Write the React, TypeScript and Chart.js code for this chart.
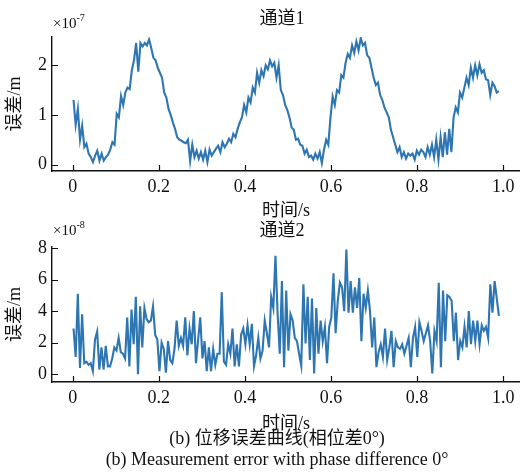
import React, { useEffect, useRef } from "react";
import { Chart, registerables } from "chart.js";

Chart.register(...registerables);

const SERIF = '"Liberation Serif", "Times New Roman", "Noto Sans CJK SC", serif';
const LINE_COLOR = "#2e76b2";
const INK = "#111111";

// Time axis (s)
const X_TICKS = [0, 0.2, 0.4, 0.6, 0.8, 1.0];
const T_START = 0.002;
const T_END = 0.99;

// Channel 1 displacement error, in units of 1e-7 m
const CH1_Y_TICKS = [0, 1, 2];
const CH1_ERROR = [
  1.3, 0.8, 1.12, 0.5, 0.78, 0.35, 0.42, 0.22, 0.15, 0.05,
  0.18, 0.28, 0.08, 0.22, 0.08, 0.15, 0.2, 0.3, 0.45, 0.4,
  1.02, 0.95, 1.38, 1.2, 1.45, 1.55, 1.52, 1.9, 2.1, 2.45,
  1.87, 2.45, 2.38, 2.45, 2.4, 2.52, 2.35, 2.15, 2.1, 1.95,
  1.85, 1.75, 1.45, 1.35, 1.12, 1.0, 0.85, 0.72, 0.55, 0.5,
  0.48, 0.45, 0.43, 0.5, 0.07, 0.4, 0.15, 0.28, 0.12, 0.25,
  0.1, 0.28, 0.05, 0.3, 0.18, 0.25, 0.32, 0.38, 0.25, 0.45,
  0.35, 0.42, 0.52, 0.45, 0.62, 0.55, 0.72, 0.85, 0.95, 1.2,
  1.05, 1.35, 1.25, 1.55, 1.45, 1.85, 1.65, 1.9, 1.78, 2.0,
  1.92, 2.1, 1.98, 2.05, 1.75, 2.0, 1.5, 1.4, 1.2, 1.1,
  0.95, 0.75, 0.7, 0.5, 0.52, 0.4, 0.38, 0.22, 0.3, 0.15,
  0.18, 0.1, 0.22, 0.12, 0.25, 0.03, 0.3, 0.5, 0.4, 0.95,
  1.37, 1.2, 1.5, 1.45, 1.8, 1.75, 2.05, 2.23, 2.15, 2.4,
  2.25, 2.48, 2.3, 2.55, 2.4, 2.45, 2.2, 2.15, 1.95, 1.75,
  1.6, 1.65, 1.4, 1.3, 1.15, 1.05, 0.95, 0.7, 0.55, 0.4,
  0.25, 0.35, 0.15, 0.25, 0.12, 0.22, 0.18, 0.22, 0.1, 0.28,
  0.2, 0.3, 0.25, 0.15, 0.35, 0.2, 0.4, 0.15, 0.5, 0.1,
  0.55, 0.15, 0.65, 0.2, 0.72, 0.25, 0.95, 1.15, 1.05, 1.45,
  1.35, 1.55, 1.75, 1.6, 1.95, 1.75, 2.0, 1.8, 2.02, 1.85,
  1.9, 1.72, 1.7, 1.4, 1.65, 1.58, 1.45, 1.48,
];

// Channel 2 displacement error, in units of 1e-8 m
const CH2_Y_TICKS = [0, 2, 4, 6, 8];
const CH2_ERROR = [
  2.9, 1.1, 5.1, 0.4, 3.8, 0.7, 0.8, 0.6, 0.7, 0.2,
  2.2, 2.7, 0.3, 1.7, 0.3, 1.8, 0.5, 0.5, 1.0, 1.7,
  1.5, 2.3, 1.4, 1.3, 1.0, 3.6, 0.5, 4.1, 1.9, 4.9,
  0.0, 4.3, 1.7, 4.2, 3.5, 3.3, 3.4, 4.3, 2.5, 2.2,
  0.2, 2.0, 1.6, 0.1, 2.1, 0.9, 0.7, 1.6, 3.4, 1.8,
  2.3, 1.8, 3.6, 1.2, 2.9, 1.9, 4.0, 0.7, 2.2, 3.6,
  1.0, 2.1, 0.2, 1.7, 0.2, 1.6, 0.6, 1.3, 1.3, 5.2,
  0.8, 0.6, 1.9, 1.3, 2.9, 0.5, 1.9, 0.5, 2.5, 2.9,
  1.9, 3.1, 1.9, 3.2, 0.5, 1.2, 2.3, 1.0, 1.5, 3.4,
  2.6, 1.7, 4.9, 4.2, 7.5, 3.8, 1.3, 5.9, 0.45, 5.3,
  1.5, 3.8, 3.4, 2.3, 2.1, 1.3, 0.55, 5.7, 1.95, 4.9,
  0.9, 4.8, 0.05, 4.2, 1.3, 3.4, 2.1, 3.0, 0.7, 3.0,
  3.6, 6.4, 2.6, 4.65, 5.8, 5.5, 4.0, 7.9, 3.9, 5.9,
  3.9, 5.5, 4.2, 6.1, 2.1, 5.1, 4.2, 5.3, 4.0, 1.7,
  3.6, 0.45, 1.4, 1.9, 1.1, 2.9, 0.9, 1.7, 2.75, 0.45,
  2.1, 1.7, 1.6, 1.9, 1.3, 1.8, 2.3, 0.45, 2.3, 3.0,
  1.1, 3.3, 2.75, 2.1, 2.6, 3.1, 2.1, 0.05, 2.75, 2.1,
  5.8, 0.45, 5.3, 2.1, 5.0, 4.9, 4.65, 2.1, 3.9, 0.9,
  2.1, 1.7, 3.0, 1.7, 4.0, 1.9, 3.4, 2.1, 3.4, 1.9,
  3.1, 2.75, 3.0, 2.3, 5.7, 3.9, 5.9, 4.8, 3.7,
];

function sampleTimes(n: number): number[] {
  const step = (T_END - T_START) / (n - 1);
  return Array.from({ length: n }, (_, i) => T_START + i * step);
}

// Inward tick marks, panel title and the ×10^n axis multiplier
const panelDecor = {
  id: "panelDecor",
  afterDraw(chart: any, _args: any, opts: any) {
    const { ctx, chartArea, scales } = chart;
    ctx.save();
    ctx.strokeStyle = INK;
    ctx.lineWidth = 1.2;
    ctx.beginPath();
    for (const v of opts.xTicks) {
      const px = Math.round(scales.x.getPixelForValue(v)) + 0.5;
      ctx.moveTo(px, chartArea.bottom);
      ctx.lineTo(px, chartArea.bottom - 6);
    }
    for (const v of opts.yTicks) {
      const py = Math.round(scales.y.getPixelForValue(v)) + 0.5;
      ctx.moveTo(chartArea.left, py);
      ctx.lineTo(chartArea.left + 6, py);
    }
    ctx.stroke();

    ctx.fillStyle = INK;
    ctx.font = `18px ${SERIF}`;
    ctx.textAlign = "center";
    ctx.textBaseline = "middle";
    ctx.fillText(opts.title, opts.titleX, opts.titleY);

    ctx.textAlign = "left";
    ctx.textBaseline = "alphabetic";
    ctx.font = `15px ${SERIF}`;
    ctx.fillText("×10", opts.expX, opts.expY);
    const w = ctx.measureText("×10").width;
    ctx.font = `10px ${SERIF}`;
    ctx.fillText(opts.exponent, opts.expX + w, opts.expY - 7);
    ctx.restore();
  },
};

type PanelSpec = {
  values: number[];
  yTicks: number[];
  yMin: number;
  yMax: number;
  title: string;
  exponent: string;
  plotTop: number;
  xAxisHeight: number;
  xTitleBottom: number;
  titleY: number;
  expY: number;
};

function makePanel(canvas: HTMLCanvasElement, spec: PanelSpec) {
  const times = sampleTimes(spec.values.length);
  const font = { family: SERIF, size: 18 };
  return new Chart(canvas, {
    type: "line",
    data: {
      datasets: [
        {
          data: spec.values.map((y, i) => ({ x: times[i], y })),
          borderColor: LINE_COLOR,
          borderWidth: 2.1,
          pointRadius: 0,
          tension: 0,
          fill: false,
        },
      ],
    },
    options: {
      animation: false,
      responsive: false,
      maintainAspectRatio: false,
      events: [],
      layout: { padding: { top: spec.plotTop, left: 0, right: 0, bottom: 0 } },
      plugins: {
        legend: { display: false },
        tooltip: { enabled: false },
        panelDecor: {
          xTicks: X_TICKS,
          yTicks: spec.yTicks,
          title: spec.title,
          titleX: 282,
          titleY: spec.titleY,
          exponent: spec.exponent,
          expX: 53,
          expY: spec.expY,
        },
      } as any,
      scales: {
        x: {
          type: "linear",
          min: -0.048,
          max: 1.039,
          afterFit: (s: any) => {
            s.height = spec.xAxisHeight;
          },
          afterBuildTicks: (s: any) => {
            s.ticks = X_TICKS.map((value) => ({ value }));
          },
          grid: { display: false, drawTicks: false },
          border: { display: true, color: INK, width: 1.4 },
          ticks: {
            font,
            color: INK,
            padding: 5,
            maxRotation: 0,
            autoSkip: false,
            callback: (v: any) => (Number(v) === 0 ? "0" : Number(v).toFixed(1)),
          },
          title: {
            display: true,
            text: "时间/s",
            font,
            color: INK,
            padding: { top: 0, bottom: spec.xTitleBottom },
          },
        },
        y: {
          type: "linear",
          min: spec.yMin,
          max: spec.yMax,
          afterFit: (s: any) => {
            s.width = 52;
          },
          afterBuildTicks: (s: any) => {
            s.ticks = spec.yTicks.map((value) => ({ value }));
          },
          grid: { display: false, drawTicks: false },
          border: { display: true, color: INK, width: 1.4 },
          ticks: {
            font,
            color: INK,
            padding: 5,
            autoSkip: false,
            callback: (v: any) => String(v),
          },
          title: {
            display: true,
            text: "误差/m",
            font,
            color: INK,
            padding: { top: 4, bottom: 0 },
          },
        },
      },
    },
    plugins: [panelDecor],
  } as any);
}

export default function App() {
  const topRef = useRef<HTMLCanvasElement | null>(null);
  const bottomRef = useRef<HTMLCanvasElement | null>(null);

  useEffect(() => {
    const charts: Chart[] = [];
    if (topRef.current) {
      charts.push(
        makePanel(topRef.current, {
          values: CH1_ERROR,
          yTicks: CH1_Y_TICKS,
          yMin: -0.13,
          yMax: 2.57,
          title: "通道1",
          exponent: "-7",
          plotTop: 37,
          xAxisHeight: 54,
          xTitleBottom: 3,
          titleY: 19,
          expY: 28,
        })
      );
    }
    if (bottomRef.current) {
      charts.push(
        makePanel(bottomRef.current, {
          values: CH2_ERROR,
          yTicks: CH2_Y_TICKS,
          yMin: -0.49,
          yMax: 8.06,
          title: "通道2",
          exponent: "-8",
          plotTop: 35,
          xAxisHeight: 55,
          xTitleBottom: 2,
          titleY: 19.5,
          expY: 23,
        })
      );
    }
    return () => charts.forEach((c) => c.destroy());
  }, []);

  const captionStyle: React.CSSProperties = {
    position: "absolute",
    left: 17,
    width: 520,
    textAlign: "center",
    fontFamily: SERIF,
    fontSize: 18,
    lineHeight: "21px",
    color: INK,
    whiteSpace: "nowrap",
  };

  return (
    <div
      style={{
        position: "absolute",
        left: 0,
        top: 0,
        width: 520,
        height: 473,
        overflow: "hidden",
        background: "#ffffff",
      }}
    >
      <canvas
        ref={topRef}
        width={520}
        height={225}
        style={{ position: "absolute", left: 0, top: 0, width: 520, height: 225 }}
      />
      <canvas
        ref={bottomRef}
        width={520}
        height={225}
        style={{ position: "absolute", left: 0, top: 212, width: 520, height: 225 }}
      />
      <div style={{ ...captionStyle, top: 428 }}>(b) 位移误差曲线(相位差0°)</div>
      <div style={{ ...captionStyle, top: 449 }}>(b) Measurement error with phase difference 0°</div>
    </div>
  );
}
